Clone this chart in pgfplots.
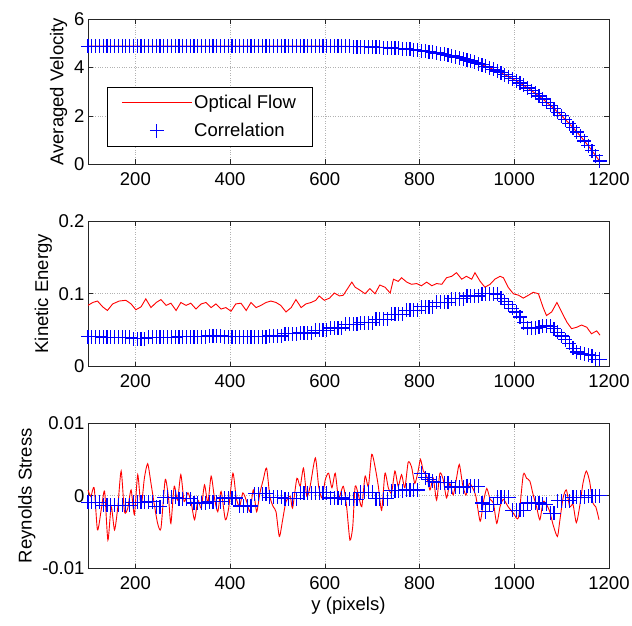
\documentclass[border=0pt]{standalone}
\usepackage{fontspec}
\setmainfont{Liberation Sans}
\usepackage{pgfplots}
\usepackage{pgfplotstable}
\pgfplotsset{compat=1.18}
\newcommand{\fs}{\fontsize{18.5}{22}\selectfont}
\definecolor{mred}{RGB}{255,0,0}
\definecolor{mblue}{RGB}{0,0,255}

% x, velocity, kinetic energy, Reynolds stress (correlation)
\pgfplotstableread{
x vel ke rs
100 4.880 0.041 -0.0009
108 4.880 0.041 -0.0009
116 4.880 0.041 -0.0009
124 4.880 0.041 -0.0009
132 4.880 0.040 -0.0013
140 4.880 0.040 -0.0013
148 4.880 0.040 -0.0013
156 4.880 0.040 -0.0013
164 4.880 0.040 -0.0013
172 4.880 0.040 -0.0013
180 4.880 0.040 -0.0013
188 4.880 0.040 -0.0013
196 4.880 0.038 -0.0009
204 4.880 0.038 -0.0009
212 4.880 0.038 -0.0009
220 4.880 0.038 -0.0009
228 4.880 0.040 -0.0008
236 4.880 0.040 -0.0008
244 4.880 0.040 -0.0015
252 4.880 0.040 -0.0015
260 4.880 0.040 -0.0002
268 4.880 0.040 -0.0002
276 4.880 0.040 -0.0002
284 4.880 0.040 -0.0002
292 4.880 0.041 -0.0004
300 4.880 0.041 -0.0004
308 4.880 0.041 -0.0004
316 4.880 0.041 -0.0004
324 4.880 0.041 -0.0010
332 4.880 0.041 -0.0010
340 4.880 0.041 -0.0010
348 4.880 0.041 -0.0010
356 4.880 0.042 -0.0008
364 4.880 0.042 -0.0008
372 4.880 0.042 -0.0008
380 4.880 0.042 -0.0008
388 4.880 0.041 -0.0003
396 4.880 0.041 -0.0003
404 4.880 0.041 -0.0003
412 4.880 0.041 -0.0003
420 4.880 0.041 -0.0014
428 4.880 0.041 -0.0014
436 4.880 0.041 -0.0014
444 4.880 0.041 -0.0014
452 4.880 0.041 0.0003
460 4.880 0.041 0.0003
468 4.880 0.041 0.0003
476 4.880 0.041 0.0003
484 4.880 0.042 -0.0002
492 4.880 0.042 -0.0002
500 4.880 0.042 -0.0002
508 4.880 0.042 -0.0002
516 4.880 0.045 -0.0004
524 4.880 0.045 -0.0004
532 4.880 0.045 -0.0004
540 4.880 0.045 -0.0004
548 4.880 0.046 0.0004
556 4.880 0.046 0.0004
564 4.880 0.046 0.0004
572 4.879 0.046 0.0004
580 4.879 0.050 0.0004
588 4.879 0.050 0.0004
596 4.878 0.050 0.0004
604 4.877 0.050 0.0004
612 4.877 0.053 -0.0003
620 4.875 0.053 -0.0003
628 4.874 0.053 -0.0003
636 4.872 0.053 -0.0003
644 4.870 0.058 -0.0005
652 4.868 0.058 -0.0005
660 4.865 0.058 -0.0005
668 4.862 0.058 -0.0005
676 4.859 0.060 0.0005
684 4.855 0.060 0.0005
692 4.850 0.060 0.0005
700 4.845 0.060 0.0005
708 4.839 0.065 -0.0004
716 4.832 0.065 -0.0004
724 4.824 0.065 -0.0004
732 4.816 0.065 -0.0004
740 4.806 0.072 0.0007
748 4.796 0.072 0.0007
756 4.785 0.072 0.0007
764 4.772 0.072 0.0007
772 4.759 0.077 0.0008
780 4.744 0.077 0.0008
788 4.728 0.077 0.0008
796 4.710 0.077 0.0008
804 4.691 0.082 0.0031
812 4.670 0.082 0.0025
820 4.648 0.082 0.0022
828 4.624 0.082 0.0020
836 4.597 0.088 0.0018
844 4.570 0.088 0.0018
852 4.540 0.088 0.0018
860 4.508 0.088 0.0018
868 4.474 0.093 0.0012
876 4.437 0.093 0.0012
884 4.398 0.093 0.0012
892 4.357 0.093 0.0012
900 4.313 0.097 0.0013
908 4.266 0.097 0.0013
916 4.216 0.097 0.0013
924 4.163 0.097 0.0013
932 4.108 0.100 -0.0010
940 4.049 0.100 -0.0022
948 3.987 0.100 -0.0012
956 3.922 0.100 -0.0012
964 3.853 0.099 -0.0002
972 3.780 0.094 -0.0002
980 3.704 0.089 -0.0002
988 3.623 0.085 -0.0002
996 3.538 0.080 -0.0020
1004 3.450 0.075 -0.0020
1012 3.357 0.068 -0.0020
1020 3.260 0.060 -0.0020
1028 3.157 0.053 -0.0010
1036 3.050 0.053 -0.0010
1044 2.938 0.053 -0.0010
1052 2.822 0.054 -0.0010
1060 2.701 0.055 -0.0012
1068 2.573 0.056 -0.0012
1076 2.440 0.055 -0.0024
1084 2.301 0.052 -0.0024
1092 2.158 0.047 -0.0007
1100 2.008 0.042 -0.0007
1108 1.851 0.037 -0.0007
1116 1.688 0.032 -0.0007
1124 1.520 0.025 -0.0002
1132 1.344 0.020 -0.0002
1140 1.162 0.018 -0.0002
1148 0.972 0.017 -0.0002
1156 0.775 0.016 0.0000
1164 0.572 0.015 0.0000
1172 0.360 0.010 0.0000
1180 0.141 0.010 0.0000
}\corr

% optical flow, kinetic energy
\pgfplotstableread{
x ke
100 0.084
110 0.088
120 0.090
131 0.082
141 0.077
152 0.086
166 0.090
180 0.091
191 0.086
201 0.078
212 0.082
222 0.093
233 0.081
244 0.088
254 0.092
265 0.084
275 0.087
286 0.077
296 0.088
307 0.084
317 0.087
328 0.079
339 0.086
349 0.088
360 0.081
370 0.086
381 0.079
391 0.081
402 0.076
412 0.086
423 0.087
434 0.077
444 0.088
455 0.081
465 0.084
476 0.088
486 0.090
497 0.088
507 0.084
518 0.075
529 0.081
539 0.092
550 0.081
560 0.086
571 0.088
581 0.091
588 0.097
599 0.091
610 0.094
620 0.101
631 0.097
639 0.098
646 0.105
657 0.116
664 0.109
674 0.105
685 0.100
695 0.107
706 0.100
716 0.112
727 0.109
738 0.101
745 0.120
755 0.117
762 0.122
773 0.116
783 0.113
794 0.114
804 0.111
815 0.116
826 0.111
836 0.114
847 0.113
857 0.122
868 0.124
878 0.129
889 0.120
899 0.124
910 0.120
917 0.129
928 0.117
938 0.109
949 0.113
959 0.120
970 0.124
977 0.122
987 0.109
998 0.100
1009 0.098
1019 0.094
1030 0.098
1040 0.102
1051 0.100
1061 0.081
1068 0.070
1079 0.075
1090 0.088
1100 0.075
1111 0.061
1121 0.052
1132 0.054
1142 0.057
1153 0.054
1163 0.045
1174 0.049
1181 0.043
}\ofke

% optical flow, Reynolds stress
\pgfplotstableread{
x rs
100 0.0008
106 -0.0001
113 0.0011
120 -0.0047
128 -0.0019
135 0.0006
142 -0.0061
149 -0.0015
156 -0.0047
163 -0.0015
170 0.0034
177 -0.0022
184 -0.0017
191 0.0008
198 -0.0026
205 0.0029
212 -0.0015
219 0.0024
226 0.0044
233 0.0017
240 -0.0012
247 -0.0038
254 -0.0045
263 0.0022
270 -0.0003
275 -0.0038
282 0.0013
289 -0.0006
296 0.0029
303 -0.0008
311 0.0004
318 -0.0010
325 -0.0033
332 -0.0006
339 -0.0017
346 0.0015
353 -0.0010
360 0.0027
367 -0.0003
374 -0.0022
381 0.0006
390 -0.0033
397 -0.0017
406 0.0031
413 -0.0003
420 -0.0015
427 0.0004
435 -0.0008
442 -0.0022
449 0.0008
456 -0.0022
463 0.0004
470 0.0022
477 0.0038
484 -0.0001
491 -0.0015
497 -0.0022
504 -0.0056
511 -0.0033
518 -0.0008
527 -0.0001
532 -0.0017
541 0.0024
548 0.0013
555 0.0038
562 -0.0001
569 0.0013
580 0.0052
587 0.0013
594 -0.0003
601 0.0022
608 0.0031
615 0.0011
622 0.0031
629 -0.0003
639 0.0013
646 -0.0015
653 -0.0061
659 -0.0042
664 0.0013
671 0.0001
678 -0.0015
685 0.0027
692 0.0013
699 0.0057
706 0.0040
713 0.0013
720 -0.0020
727 0.0031
734 0.0011
741 0.0004
748 0.0034
755 0.0013
762 0.0029
769 0.0011
776 0.0046
783 0.0040
790 0.0017
797 0.0034
802 0.0050
808 0.0034
815 0.0027
822 0.0008
829 0.0024
836 -0.0006
843 0.0031
850 0.0022
857 -0.0003
864 0.0017
871 0.0001
878 0.0024
884 0.0043
891 0.0015
898 0.0001
905 0.0017
912 0.0011
919 -0.0001
928 -0.0035
935 -0.0008
942 0.0010
949 -0.0005
956 -0.0010
963 -0.0038
970 -0.0015
977 -0.0005
987 -0.0015
998 -0.0024
1009 -0.0030
1019 0.0029
1026 0.0024
1033 0.0020
1040 0.0001
1047 -0.0015
1054 -0.0033
1061 -0.0008
1068 -0.0012
1075 -0.0022
1082 -0.0040
1091 -0.0056
1096 -0.0035
1103 -0.0003
1110 0.0008
1117 -0.0015
1124 -0.0012
1131 -0.0037
1138 -0.0015
1145 0.0017
1152 0.0034
1159 0.0020
1166 -0.0010
1172 -0.0015
1179 -0.0033
}\ofrs

\pgfplotsset{
  mstyle/.style={
    scale only axis, width=521pt, height=145.5pt,
    xmin=100, xmax=1200,
    xtick={200,400,600,800,1000,1200},
    xticklabels={200,400,600,800,1000,1200},
    grid=major,
    grid style={dotted, black!30, line width=0.6pt},
    major tick length=5pt,
    tick style={black!85, line width=0.6pt},
    axis line style={black!85, line width=0.7pt},
    tick label style={font=\fs},
    label style={font=\fs},
    /pgf/number format/assume math mode=true,
    /pgf/number format/1000 sep={},
    xticklabel style={yshift=-5pt},
  },
  ofstyle/.style={draw=mred, line width=0.9pt, no marks},
  colegend/.style={legend image code/.code={%
    \draw[mblue, line width=1.1pt] (28pt,0pt) -- (42pt,0pt) (35pt,-7pt) -- (35pt,7pt);}},
  % the + markers of the correlation series, drawn as fixed-size crosses
  costyle/.style={draw=none, no marks,
    error bars/.cd, x dir=both, x fixed=14.8, y dir=both, y fixed=#1,
    error mark=none,
    error bar style={draw=mblue, solid, line width=1.2pt}},
}

\begin{document}
\begin{tikzpicture}
\useasboundingbox (0,0) rectangle (632pt,-626pt);

\begin{axis}[mstyle, at={(88pt,-19pt)}, anchor=north west,
  clip=false,
  ymin=0, ymax=6, ytick={0,2,4,6}, yticklabels={0,2,4,6},
  ylabel={Averaged Velocity},
  legend style={at={(axis description cs:0.0365,0.533)}, anchor=north west,
    draw=black, line width=0.6pt, fill=white, font=\fs,
    inner xsep=14pt, inner ysep=6pt, row sep=9pt,
    nodes={inner sep=2pt},
    /tikz/every even column/.append style={column sep=12pt}},
  legend cell align=left,
  legend image code/.code={\draw[#1] (0pt,0pt) -- (70pt,0pt);},
]
\addplot[ofstyle] table[x=x, y=vel] {\corr};
\addlegendentry{Optical Flow}
\addplot[colegend, costyle=0.289] table[x=x, y=vel] {\corr};
\addlegendentry{Correlation}
\end{axis}

\begin{axis}[mstyle, at={(88pt,-221pt)}, anchor=north west,
  clip=false,
  ymin=0, ymax=0.2, ytick={0,0.1,0.2}, yticklabels={0,0.1,0.2},
  ylabel={Kinetic Energy}]
\addplot[ofstyle] table[x=x, y=ke] {\ofke};
\addplot[costyle=0.00962] table[x=x, y=ke] {\corr};
\end{axis}

\begin{axis}[mstyle, at={(88pt,-423pt)}, anchor=north west,
  clip=false,
  ymin=-0.01, ymax=0.01, ytick={-0.01,0,0.01}, yticklabels={-0.01,0,0.01},
  scaled y ticks=false,
  ylabel={Reynolds Stress}, xlabel={y (pixels)}]
\addplot[ofstyle, smooth, tension=0.4] table[x=x, y=rs] {\ofrs};
\addplot[costyle=0.000962] table[x=x, y=rs] {\corr};
\end{axis}
\end{tikzpicture}
\end{document}
